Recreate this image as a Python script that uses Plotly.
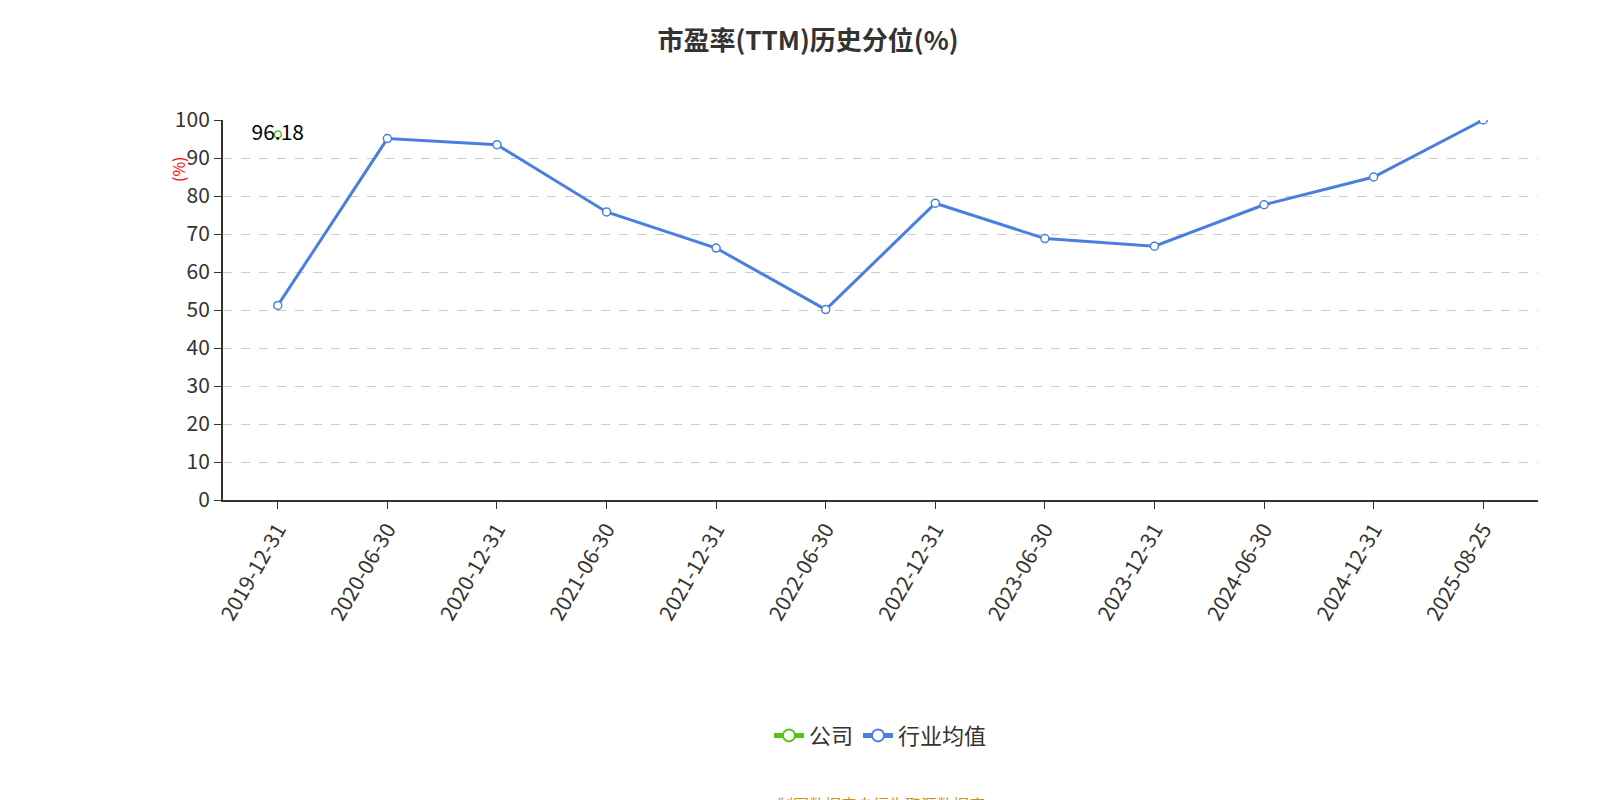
import plotly.graph_objects as go

dates = ["2019-12-31","2020-06-30","2020-12-31","2021-06-30","2021-12-31","2022-06-30",
         "2022-12-31","2023-06-30","2023-12-31","2024-06-30","2024-12-31","2025-08-25"]
company = [96.18] + [None]*11
industry = [51.2, 95.1, 93.5, 75.8, 66.3, 50.1, 78.1, 68.8, 66.8, 77.7, 85.0, 100.0]

font = "Noto Sans CJK SC"
fig = go.Figure()
fig.add_trace(go.Scatter(x=dates, y=company, name="公司", mode="markers+lines+text",
    text=["96.18"]+[""]*11, textposition="middle center", textfont=dict(size=21, color="#000"),
    line=dict(color="#52c41a", width=2),
    marker=dict(size=7, color="white", line=dict(color="#52c41a", width=1.5))))
fig.add_trace(go.Scatter(x=dates, y=industry, name="行业均值", mode="lines+markers",
    line=dict(color="#4a7fe0", width=3),
    marker=dict(size=8, color="white", line=dict(color="#4a7fe0", width=1.5))))
fig.update_layout(
    width=1600, height=800, plot_bgcolor="white", paper_bgcolor="white",
    font=dict(family=font, size=21, color="#333"),
    title=dict(text="<b>市盈率(TTM)历史分位(%)</b>", x=0.5, y=0.97, xanchor="center", font=dict(size=26, color="#333")),
    margin=dict(l=215, r=70, t=112, b=308),
    xaxis=dict(type="category", tickangle=-60, showline=True, linecolor="#333", linewidth=2,
               ticks="outside", ticklen=7, tickcolor="#333", range=[-0.5, 11.5], showgrid=False),
    yaxis=dict(range=[0, 100], dtick=10, showline=True, linecolor="#333", linewidth=2,
               ticks="outside", ticklen=7, tickcolor="#333", gridcolor="#ccc", griddash="dash"),
    legend=dict(orientation="h", x=0.5, xanchor="center", y=-0.62, yanchor="middle", font=dict(size=22),
                itemsizing="constant"),
    showlegend=True,
)
fig.add_annotation(text="(%)", xref="paper", yref="paper", x=-0.045, y=0.91, textangle=-90,
    showarrow=False, font=dict(size=16, color="red"))
fig.add_annotation(text="制图数据来自恒生聚源数据库", xref="paper", yref="paper", x=0.5, y=-0.8,
    showarrow=False, font=dict(size=16, color="#c8941e"), yanchor="middle")
fig.write_html("out.html")
